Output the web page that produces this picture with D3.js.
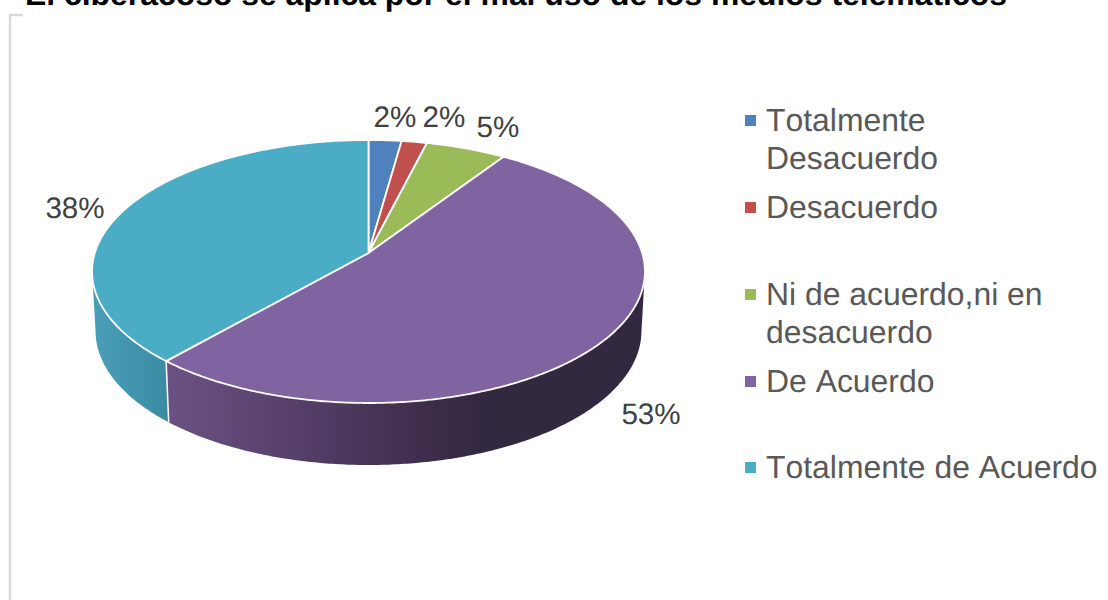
<!DOCTYPE html>
<html><head><meta charset="utf-8">
<script src="https://cdn.jsdelivr.net/npm/d3@7"></script>
<style>html,body{margin:0;padding:0;background:#fff;overflow:hidden}svg{display:block}text{font-family:"Liberation Sans",Arial,sans-serif;text-rendering:geometricPrecision;font-kerning:none}</style>
</head><body><svg id="c" width="1108" height="600"></svg>
<script>
const titleText = "El ciberacoso se aplica por el mal uso de los medios telemáticos";
const categories = ["Totalmente Desacuerdo","Desacuerdo","Ni de acuerdo,ni en desacuerdo","De Acuerdo","Totalmente de Acuerdo"];
const values = [2.2,1.7,5.4,52.2,38.5];
const pctLabels = ["2%","2%","5%","53%","38%"];
const colors = ["#4f81bd","#c0504d","#9bbb59","#8064a2","#4bacc6"];
const legendLines = [["Totalmente","Desacuerdo"],["Desacuerdo"],["Ni de acuerdo,ni en","desacuerdo"],["De Acuerdo"],["Totalmente de Acuerdo"]];
const legendY = [131,218,305,392,478];
const labelPos = [[395,127],[444,127],[498,137],[651,424],[75,218]];

const svg = d3.select("#c");
const cx=368.5, apexY=253, ellCy=271.5, A=276.5, B=131.5;
const k=-0.1407, a=273.7, b=128.9;
const botCy=331, botA=273, botB=134;

// perspective projection of the plan angle
function topPt(t){const u=Math.sin(t),v=-Math.cos(t),w=1+k*v;return [cx+a*u/w, apexY+b*v/w];}
function botPt(t){const p=topPt(t);return [cx+(p[0]-cx)*botA/A, botCy+(p[1]-ellCy)*botB/B];}
const tR=Math.acos(k), tL=2*Math.PI-tR;

const arcs = d3.pie().sort(null)(values);
const line = d3.line();
function samples(s,e){const n=Math.max(2,Math.ceil((e-s)/0.01));return d3.range(n+1).map(i=>s+(e-s)*i/n);}

const defs=svg.append("defs");
function grad(id,stops){const g=defs.append("linearGradient").attr("id",id).attr("gradientUnits","userSpaceOnUse").attr("x1",92).attr("x2",645).attr("y1",0).attr("y2",0);
 stops.forEach(s=>g.append("stop").attr("offset",s[0]).attr("stop-color",s[1]));}
grad("side3",[[0,"#6e5488"],[0.14,"#6b5183"],[0.4,"#523d66"],[0.62,"#3c2c48"],[0.72,"#322840"],[1,"#322840"]]);
grad("side4",[[0,"#4a9fb8"],[0.14,"#3b8aa3"],[1,"#3b8aa3"]]);

// sides
arcs.forEach((d,i)=>{
  const s=Math.max(d.startAngle,tR), e=Math.min(d.endAngle,tL);
  if(e<=s) return;
  const ts=samples(s,e);
  const pts=ts.map(topPt).concat(ts.slice().reverse().map(botPt));
  svg.append("path").attr("d",line(pts)+"Z").attr("fill",`url(#side${i})`);
});
// divider on the side at visible boundary
arcs.forEach(d=>{
  if(d.endAngle>tR && d.endAngle<tL){
    svg.append("path").attr("d",line([topPt(d.endAngle),botPt(d.endAngle)])).attr("stroke","#fff").attr("stroke-width",1.5).attr("fill","none");
  }
});
// top
const apex=[cx,apexY];
arcs.forEach((d,i)=>{
  const pts=[apex].concat(samples(d.startAngle,d.endAngle).map(topPt));
  svg.append("path").attr("d",line(pts)+"Z").attr("fill",colors[i]).attr("stroke","#fff").attr("stroke-width",1.8).attr("stroke-linejoin","round");
});
// labels
arcs.forEach((d,i)=>{
  svg.append("text").attr("x",labelPos[i][0]).attr("y",labelPos[i][1]).attr("text-anchor","middle").attr("font-size",29.6).attr("fill","#404040").text(pctLabels[i]);
});
// legend
legendLines.forEach((ls,i)=>{
  const y=legendY[i];
  svg.append("rect").attr("x",745).attr("y",y-16).attr("width",11).attr("height",11).attr("fill",colors[i]);
  ls.forEach((l,j)=>svg.append("text").attr("x",766).attr("y",y+j*38).attr("font-size",31.9).attr("fill","#595959").text(l));
});
// frame
svg.append("path").attr("d",line([[10,600],[10,15],[23,15]])).attr("fill","none").attr("stroke","#d9d9d9").attr("stroke-width",2.5);
// title
svg.append("text").attr("x",25).attr("y",5).attr("font-size",31.9).attr("font-weight","bold").attr("fill","#000").text(titleText);
</script></body></html>
